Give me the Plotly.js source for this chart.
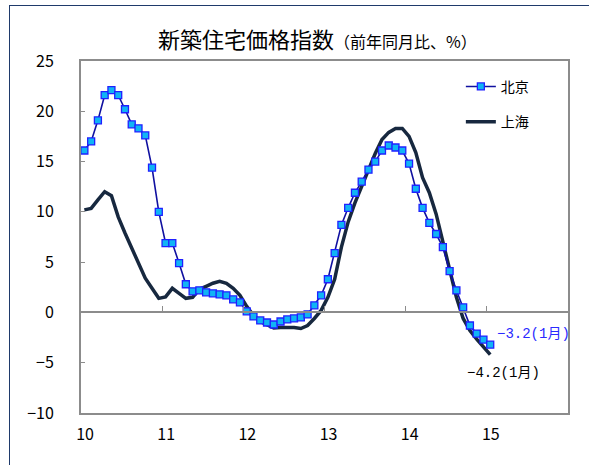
<!DOCTYPE html>
<html>
<head>
<meta charset="utf-8">
<script src="https://cdn.plot.ly/plotly-3.0.1.min.js"></script>
<style>
html,body{margin:0;padding:0;background:#fff;}
#wrap{position:relative;width:589px;height:465px;overflow:hidden;}
#chart{position:absolute;left:0;top:0;width:589px;height:465px;}
#frame{position:absolute;left:9px;top:5px;width:620px;height:500px;border-left:1.5px solid #1f3a6b;border-top:1.5px solid #1f3a6b;pointer-events:none;}
</style>
</head>
<body>
<div id="wrap"><div id="chart"></div><div id="frame"></div></div>
<script>
// Monthly, Jan 2010 .. Jan 2015 (61 months)
const startYear = 2010;
const nMonths = 61;
const yearLabels = ['10', '11', '12', '13', '14', '15'];

const beijing = [16.1, 17.0, 19.1, 21.6, 22.1, 21.6, 20.2, 18.7, 18.3, 17.6, 14.4, 10.0,
  6.9, 6.9, 4.9, 2.8, 2.1, 2.2, 2.0, 1.9, 1.8, 1.7, 1.3, 1.0,
  0.1, -0.4, -0.8, -1.0, -1.2, -0.9, -0.7, -0.6, -0.5, -0.2, 0.7, 1.7,
  3.3, 5.9, 8.7, 10.4, 11.9, 13.0, 14.2, 15.0, 16.1, 16.6, 16.4, 16.1,
  14.8, 12.3, 10.4, 8.9, 7.8, 6.5, 4.1, 2.2, 0.5, -1.3, -2.1, -2.7,
  -3.2];

const shanghai = [10.2, 10.35, 11.2, 12.0, 11.6, 9.5, 7.9, 6.4, 4.9, 3.4, 2.4, 1.4,
  1.55, 2.4, 1.9, 1.4, 1.5, 2.3, 2.6, 2.9, 3.1, 2.9, 2.4, 1.7,
  0.6, -0.3, -0.9, -1.25, -1.55, -1.5, -1.5, -1.5, -1.6, -1.3, -0.6, 0.2,
  1.5, 3.3, 6.5, 9.0, 10.9, 12.5, 14.3, 15.8, 17.2, 17.9, 18.3, 18.3,
  17.5, 15.9, 13.4, 11.9, 9.8, 7.0, 4.0, 1.5, -0.6, -1.8, -2.65, -3.45,
  -4.2];

const lastLabelBJ = '\u22123.2(1月)';
const lastLabelSH = '\u22124.2(1月)';

const idx = [];
for (let i = 0; i < nMonths; i++) idx.push(i);
const yearTicks = yearLabels.map((_, k) => k * 12 - 0.5);
const zeroTicks = yearTicks.slice(1);

const FONT = '"Noto Sans CJK JP", "Noto Sans", sans-serif';
const MONO = '"Liberation Mono", "Noto Sans CJK JP", monospace';
const last = nMonths - 1;

const traces = [
  {
    x: idx, y: shanghai, name: '上海', type: 'scatter', mode: 'lines',
    line: {color: '#17283f', width: 3.5},
    legendgroup: 'sh', legendrank: 2, hoverinfo: 'skip'
  },
  {
    x: idx, y: beijing, name: '北京', type: 'scatter', mode: 'lines+markers',
    line: {color: '#1010a0', width: 1.6},
    marker: {symbol: 'square', size: 7, color: '#10b4f5', line: {color: '#2020ff', width: 1.3}},
    legendgroup: 'bj', legendrank: 1, hoverinfo: 'skip'
  },
  {
    x: idx, y: beijing, xaxis: 'x2', type: 'scatter', mode: 'markers',
    marker: {opacity: 0}, showlegend: false, hoverinfo: 'skip'
  }
];

const layout = {
  width: 589, height: 465,
  margin: {l: 81, r: 21, t: 61, b: 52},
  paper_bgcolor: 'rgba(0,0,0,0)', plot_bgcolor: '#ffffff',
  font: {family: FONT, color: '#000'},
  showlegend: true,
  title: {
    text: '新築住宅価格指数<span style="font-size:16px">（前年同月比、%）</span>',
    font: {family: FONT, size: 22, color: '#000'},
    x: 0.539, xanchor: 'center', y: 0.913, yanchor: 'middle'
  },
  xaxis: {
    range: [-0.5, 71.5], tickvals: yearTicks, ticktext: yearLabels,
    ticks: '', showgrid: false, zeroline: false,
    showline: true, linecolor: '#8c8c8c', linewidth: 2, mirror: true,
    tickfont: {family: FONT, size: 16, color: '#000'},
    ticklabelshift: 4, ticklabelstandoff: 6
  },
  xaxis2: {
    overlaying: 'x', matches: 'x', anchor: 'free', position: 10 / 35,
    side: 'bottom', tickvals: zeroTicks, showticklabels: false,
    ticks: 'inside', ticklen: 5, tickwidth: 1.2, tickcolor: '#8c8c8c',
    showline: true, linecolor: '#8c8c8c', linewidth: 2,
    showgrid: false, zeroline: false
  },
  yaxis: {
    range: [-10, 25], dtick: 5, tick0: 0,
    ticks: 'inside', ticklen: 4, tickwidth: 1.2, tickcolor: '#8c8c8c',
    showgrid: false, zeroline: false,
    showline: true, linecolor: '#8c8c8c', linewidth: 2, mirror: true,
    tickfont: {family: FONT, size: 16, color: '#000'},
    ticklabelstandoff: 22
  },
  legend: {
    x: 0.78, xanchor: 'left', y: 0.972, yanchor: 'top',
    bgcolor: 'rgba(0,0,0,0)', borderwidth: 0,
    traceorder: 'grouped', tracegroupgap: 14,
    font: {family: FONT, size: 14, color: '#000'}
  },
  annotations: [
    {x: last, y: beijing[last], xref: 'x', yref: 'y', text: lastLabelBJ,
     showarrow: false, xanchor: 'left', yanchor: 'middle', xshift: 5, yshift: 11,
     font: {family: MONO, size: 14, color: '#2a2aff'}},
    {x: last, y: shanghai[last], xref: 'x', yref: 'y', text: lastLabelSH,
     showarrow: false, xanchor: 'center', yanchor: 'middle', xshift: 13, yshift: -18,
     font: {family: MONO, size: 14, color: '#000'}}
  ]
};

Plotly.newPlot('chart', traces, layout, {staticPlot: true, displayModeBar: false});
</script>
</body>
</html>
